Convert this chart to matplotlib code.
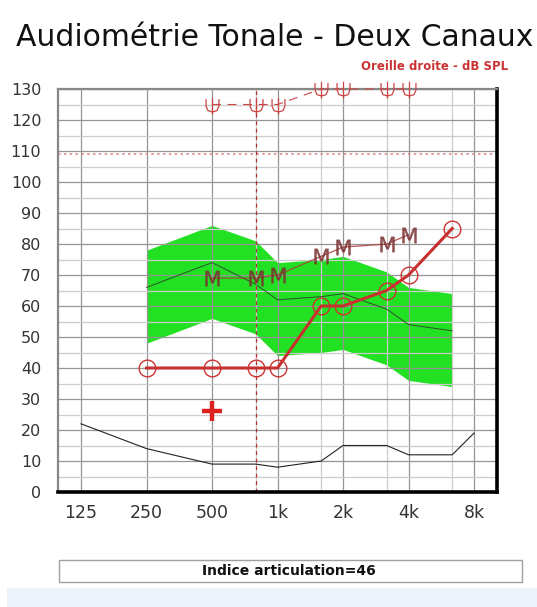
import numpy as np
import matplotlib.pyplot as plt
from matplotlib.path import Path
from matplotlib.patches import Rectangle

# audiometric frequencies (Hz)
freqs_air = [250, 500, 750, 1000, 1500, 2000, 3000, 4000, 6000]
air_db = [40, 40, 40, 40, 60, 60, 65, 70, 85]

band_upper = [78, 86, 81, 74, 75, 76, 71, 66, 64]
band_mid = [66, 74, 67, 62, 63, 64, 59, 54, 52]
band_lower = [48, 56, 51, 44, 45, 46, 41, 36, 34]

freqs_m = [500, 750, 1000, 1500, 2000, 3000, 4000]
m_db = [69, 69, 70, 76, 79, 80, 83]

freqs_u = [500, 750, 1000, 1500, 2000, 3000, 4000]
u_db = [125, 125, 125, 130, 130, 130, 130]

freqs_maf = [125, 250, 500, 750, 1000, 1500, 2000, 3000, 4000, 6000, 8000]
maf_db = [22, 14, 9, 9, 8, 10, 15, 15, 12, 12, 19]

cross_freq, cross_db = 500, 26
ucl_db = 109
marker_freq = 750

tick_freqs = [125, 250, 500, 1000, 2000, 4000, 8000]
tick_labels = ['125', '250', '500', '1k', '2k', '4k', '8k']
half_freqs = [750, 1500, 3000, 6000]

# scale: octaves evenly spaced, half-octave freqs drawn at 2/3 of the octave
anc_f = np.log2([125 / 8, 125, 250, 500, 750, 1000, 1500, 2000, 3000, 4000, 6000, 8000, 8000 * 8])
anc_p = np.array([-3, 0, 1, 2, 2 + 2 / 3, 3, 3 + 2 / 3, 4, 4 + 2 / 3, 5, 5 + 2 / 3, 6, 9])


def fwd(f):
    f = np.clip(np.asarray(f, dtype=float), 1e-3, None)
    return np.interp(np.log2(f), anc_f, anc_p)


def inv(p):
    return 2 ** np.interp(np.asarray(p, dtype=float), anc_p, anc_f)


# U marker with a stem
u_verts = [(-1, 1), (-1, -0.1), (-0.7, -0.8), (0, -1), (0.7, -0.8), (1, -0.1), (1, 1),
           (0, 1.2), (0, -1.4)]
u_codes = [Path.MOVETO] + [Path.LINETO] * 6 + [Path.MOVETO, Path.LINETO]
u_marker = Path(u_verts, u_codes)

fig = plt.figure(figsize=(5.37, 6.07), dpi=100)
ax = fig.add_axes([58 / 537, 1 - 492 / 607, 439 / 537, 403 / 607])
ax.set_xscale('function', functions=(fwd, inv))
ax.set_xlim(98, 10200)
ax.set_ylim(0, 130)

ax.set_xticks(tick_freqs)
ax.set_xticklabels(tick_labels)
ax.set_xticks(half_freqs, minor=True)
ax.set_yticks(range(0, 131, 10))
ax.set_yticks(range(5, 130, 10), minor=True)
ax.tick_params(which='both', length=0)
ax.tick_params(axis='y', pad=12, labelsize=11.5, labelcolor='#333333')
ax.tick_params(axis='x', pad=9, labelsize=12.5, labelcolor='#333333')
ax.xaxis.set_minor_formatter(plt.NullFormatter())

ax.set_axisbelow('line')
ax.grid(which='major', color='#959595', lw=0.9)
ax.grid(which='minor', color='#cccccc', lw=0.9)

for s in ['top', 'left']:
    ax.spines[s].set_color('#888888')
    ax.spines[s].set_linewidth(1.6)
for s in ['bottom', 'right']:
    ax.spines[s].set_color('black')
    ax.spines[s].set_linewidth(2.6)

ax.fill_between(freqs_air, band_lower, band_upper, color='#22e022', lw=0, zorder=1)
ax.plot(freqs_air, band_mid, color='#2f4f2f', lw=0.7, zorder=2)

ax.axhline(ucl_db, color='#e08a8a', lw=1.2, ls=(0, (1.5, 2)), zorder=2)
ax.axvline(marker_freq, color='#b03030', lw=0.9, ls=(0, (3, 3)), zorder=2)

ax.plot(freqs_maf, maf_db, color='#222222', lw=0.8, zorder=3)

ax.plot(freqs_u, u_db, color='#cc4444', lw=0.8, ls=(0, (8, 6)), marker=u_marker,
        ms=13, mfc='none', mec='#cc4444', mew=0.9, zorder=3, clip_on=False)

ax.plot(freqs_m, m_db, color='#a83a3a', lw=0.9, marker=r'$\mathrm{M}$', ms=11,
        mec='#7a3030', mfc='#7a3030', mew=0.3, alpha=0.85, zorder=3)

ax.plot(freqs_air, air_db, color='#c83030', lw=2.2, marker='o', ms=12,
        mfc='none', mec='#cc3333', mew=1.0, zorder=4)

ax.plot([cross_freq], [cross_db], marker='+', ms=15, mew=3.2, color='#dd2020', zorder=4)

fig.text(16 / 537, 1 - 37 / 607, 'Audiométrie Tonale - Deux Canaux', fontsize=21.5,
         color='#111111', va='center', ha='left')
fig.text(508 / 537, 1 - 67 / 607, 'Oreille droite - dB SPL', fontsize=8.5,
         fontweight='bold', color='#cc3333', ha='right', va='center')

fig.patches.append(Rectangle((7 / 537, 0), 530 / 537, 19 / 607, transform=fig.transFigure,
                             facecolor='#eef2fa', edgecolor='none'))
fig.patches.append(Rectangle((59 / 537, 1 - 582 / 607), 463 / 537, 22 / 607,
                             transform=fig.transFigure, facecolor='white',
                             edgecolor='#a0a0a0', lw=1))
fig.text(289 / 537, 1 - 571 / 607, 'Indice articulation=46', fontsize=10,
         fontweight='bold', family=['Liberation Sans Narrow', 'DejaVu Sans'],
         ha='center', va='center', color='#111111')

fig.savefig('out.png', dpi=100)
